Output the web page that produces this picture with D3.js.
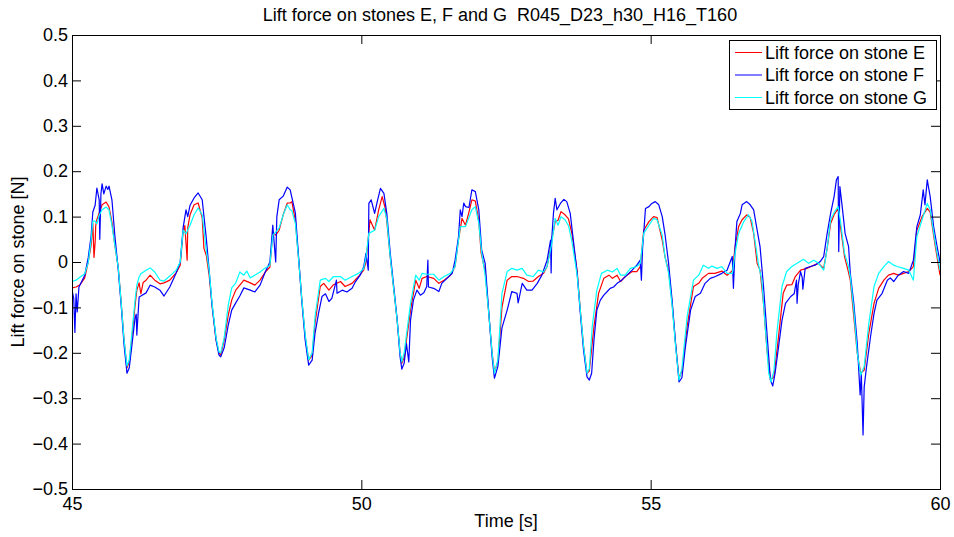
<!DOCTYPE html>
<html>
<head>
<meta charset="utf-8">
<script src="https://cdn.jsdelivr.net/npm/d3@7"></script>
<style>
  body { margin: 0; background: #fff; }
  text { font-family: "Liberation Sans", Arial, Helvetica, sans-serif; fill: #000; }
</style>
</head>
<body>
<svg id="chart" width="954" height="537"></svg>
<script>
// Lift force on stones E, F and G
// each entry is [time (s), force (N)]

const liftE = [
  [45.00,-0.057],[45.07,-0.055],[45.14,-0.050],[45.22,-0.035],[45.28,0.000],[45.33,0.037],
  [45.36,0.085],[45.38,0.010],[45.40,0.044],[45.41,0.080],[45.43,0.093],[45.47,0.108],
  [45.52,0.126],[45.59,0.132],[45.64,0.121],[45.69,0.088],[45.74,0.037],[45.80,-0.013],
  [45.85,-0.090],[45.90,-0.172],[45.95,-0.233],[45.99,-0.220],[46.04,-0.161],[46.09,-0.095],
  [46.12,-0.062],[46.16,-0.046],[46.19,-0.070],[46.23,-0.045],[46.28,-0.040],[46.35,-0.029],
  [46.43,-0.040],[46.52,-0.048],[46.59,-0.046],[46.69,-0.040],[46.80,-0.024],[46.87,-0.007],
  [46.92,0.066],[46.95,0.080],[46.99,0.004],[47.00,0.075],[47.04,0.104],[47.11,0.126],
  [47.18,0.130],[47.25,0.097],[47.28,0.030],[47.32,0.015],[47.37,-0.029],[47.42,-0.095],
  [47.49,-0.172],[47.54,-0.200],[47.57,-0.205],[47.63,-0.172],[47.70,-0.117],[47.76,-0.084],
  [47.83,-0.062],[47.90,-0.051],[47.97,-0.040],[48.08,-0.046],[48.16,-0.051],[48.25,-0.040],
  [48.34,-0.022],[48.42,-0.011],[48.47,0.066],[48.52,0.059],[48.58,0.070],[48.65,0.104],
  [48.72,0.130],[48.77,0.130],[48.80,0.133],[48.86,0.090],[48.92,0.000],[48.97,-0.080],
  [49.03,-0.165],[49.09,-0.216],[49.15,-0.205],[49.20,-0.135],[49.29,-0.054],[49.35,-0.047],
  [49.44,-0.062],[49.52,-0.050],[49.64,-0.043],[49.72,-0.054],[49.84,-0.047],[49.95,-0.032],
  [50.04,-0.018],[50.08,0.000],[50.15,0.093],[50.23,0.070],[50.30,0.115],[50.36,0.144],
  [50.41,0.120],[50.44,0.090],[50.50,0.010],[50.56,-0.060],[50.62,-0.130],[50.67,-0.200],
  [50.70,-0.223],[50.74,-0.210],[50.85,-0.106],[50.94,-0.040],[51.00,-0.058],[51.05,-0.036],
  [51.13,-0.032],[51.25,-0.036],[51.34,-0.047],[51.43,-0.040],[51.54,-0.029],[51.62,-0.010],
  [51.68,0.050],[51.74,0.096],[51.80,0.081],[51.86,0.110],[51.91,0.137],[51.97,0.134],
  [52.03,0.090],[52.07,0.020],[52.14,-0.020],[52.20,-0.110],[52.26,-0.200],[52.30,-0.242],
  [52.36,-0.220],[52.43,-0.100],[52.52,-0.040],[52.60,-0.032],[52.69,-0.032],[52.80,-0.036],
  [52.89,-0.043],[52.97,-0.042],[53.06,-0.032],[53.15,-0.025],[53.21,-0.010],[53.29,0.048],
  [53.35,0.089],[53.40,0.092],[53.45,0.111],[53.52,0.104],[53.58,0.095],[53.64,0.062],
  [53.73,-0.020],[53.78,-0.100],[53.84,-0.185],[53.90,-0.245],[53.94,-0.240],[54.02,-0.142],
  [54.10,-0.069],[54.19,-0.036],[54.28,-0.029],[54.34,-0.036],[54.42,-0.029],[54.48,-0.043],
  [54.56,-0.032],[54.68,-0.021],[54.76,-0.021],[54.82,-0.010],[54.88,0.070],[54.97,0.089],
  [55.05,0.100],[55.11,0.098],[55.20,0.048],[55.25,0.010],[55.31,-0.020],[55.37,-0.090],
  [55.43,-0.180],[55.49,-0.256],[55.54,-0.240],[55.63,-0.142],[55.74,-0.054],[55.83,-0.047],
  [55.89,-0.036],[56.00,-0.025],[56.11,-0.025],[56.23,-0.020],[56.32,-0.029],[56.41,-0.020],
  [56.46,0.034],[56.52,0.078],[56.58,0.093],[56.66,0.104],[56.72,0.098],[56.78,0.063],
  [56.84,-0.003],[56.89,-0.018],[56.95,-0.091],[57.01,-0.194],[57.07,-0.260],[57.13,-0.253],
  [57.21,-0.164],[57.29,-0.069],[57.35,-0.051],[57.44,-0.050],[57.50,-0.032],[57.59,-0.018],
  [57.70,-0.014],[57.82,-0.007],[57.90,-0.003],[57.99,-0.014],[58.05,0.030],[58.11,0.085],
  [58.17,0.104],[58.24,0.118],[58.28,0.078],[58.35,0.012],[58.41,-0.018],[58.45,-0.040],
  [58.51,-0.120],[58.57,-0.201],[58.63,-0.245],[58.69,-0.238],[58.77,-0.157],[58.86,-0.091],
  [58.94,-0.058],[59.03,-0.040],[59.11,-0.029],[59.20,-0.025],[59.28,-0.029],[59.37,-0.025],
  [59.46,-0.021],[59.54,-0.010],[59.60,0.070],[59.69,0.100],[59.78,0.118],[59.83,0.110],
  [59.92,0.034],[60.00,-0.029]
];

const liftF = [
  [45.00,-0.062],[45.03,-0.080],[45.05,-0.155],[45.07,-0.070],[45.09,-0.110],[45.12,-0.055],
  [45.14,-0.050],[45.22,-0.029],[45.28,0.009],[45.33,0.057],[45.36,0.110],[45.40,0.125],
  [45.43,0.163],[45.47,0.137],[45.48,0.050],[45.50,0.150],[45.52,0.172],[45.55,0.150],
  [45.59,0.167],[45.62,0.160],[45.64,0.167],[45.69,0.137],[45.74,0.059],[45.80,-0.018],
  [45.85,-0.095],[45.90,-0.183],[45.95,-0.245],[45.99,-0.233],[46.04,-0.178],[46.09,-0.123],
  [46.11,-0.115],[46.12,-0.161],[46.16,-0.077],[46.19,-0.075],[46.28,-0.068],[46.35,-0.051],
  [46.43,-0.055],[46.52,-0.062],[46.59,-0.075],[46.69,-0.055],[46.80,-0.024],[46.87,0.000],
  [46.92,0.075],[46.97,0.115],[47.00,0.100],[47.04,0.125],[47.11,0.141],[47.18,0.152],
  [47.25,0.137],[47.32,0.053],[47.37,-0.018],[47.42,-0.095],[47.49,-0.172],[47.54,-0.205],
  [47.57,-0.209],[47.63,-0.189],[47.70,-0.139],[47.76,-0.106],[47.83,-0.090],[47.90,-0.075],
  [47.97,-0.057],[48.08,-0.062],[48.16,-0.066],[48.25,-0.051],[48.34,-0.022],[48.42,0.000],
  [48.47,0.081],[48.52,0.000],[48.54,0.100],[48.58,0.137],[48.65,0.145],[48.72,0.165],
  [48.77,0.159],[48.86,0.108],[48.92,0.004],[48.97,-0.084],[49.03,-0.172],[49.09,-0.227],
  [49.15,-0.216],[49.20,-0.157],[49.26,-0.113],[49.32,-0.076],[49.38,-0.070],[49.44,-0.087],
  [49.49,-0.080],[49.57,-0.040],[49.58,-0.069],[49.67,-0.062],[49.75,-0.066],[49.84,-0.058],
  [49.90,-0.043],[49.98,-0.029],[50.04,-0.011],[50.08,0.019],[50.12,-0.018],[50.13,0.129],
  [50.17,0.137],[50.23,0.107],[50.27,0.130],[50.33,0.162],[50.39,0.151],[50.44,0.107],
  [50.50,0.019],[50.56,-0.054],[50.62,-0.128],[50.67,-0.209],[50.70,-0.236],[50.74,-0.223],
  [50.78,-0.180],[50.82,-0.220],[50.85,-0.128],[50.90,-0.084],[50.96,-0.062],[51.02,-0.073],
  [51.08,-0.068],[51.13,-0.054],[51.15,0.004],[51.16,-0.055],[51.25,-0.058],[51.34,-0.065],
  [51.39,-0.047],[51.48,-0.036],[51.57,-0.025],[51.62,0.004],[51.68,0.056],[51.71,0.115],
  [51.74,0.100],[51.77,0.130],[51.80,0.122],[51.86,0.120],[51.91,0.159],[51.97,0.155],
  [52.03,0.115],[52.08,0.026],[52.14,-0.003],[52.20,-0.106],[52.26,-0.209],[52.30,-0.256],
  [52.36,-0.230],[52.43,-0.145],[52.52,-0.106],[52.60,-0.065],[52.69,-0.069],[52.71,-0.090],
  [52.78,-0.047],[52.86,-0.062],[52.95,-0.062],[53.04,-0.047],[53.12,-0.029],[53.21,0.004],
  [53.27,0.048],[53.28,-0.024],[53.29,0.050],[53.32,0.107],[53.35,0.140],[53.38,0.115],
  [53.44,0.129],[53.50,0.138],[53.55,0.133],[53.61,0.107],[53.67,0.041],[53.73,-0.025],
  [53.78,-0.106],[53.84,-0.194],[53.90,-0.253],[53.94,-0.260],[53.98,-0.245],[54.02,-0.172],
  [54.07,-0.106],[54.13,-0.084],[54.19,-0.073],[54.25,-0.065],[54.30,-0.058],[54.36,-0.055],
  [54.42,-0.047],[54.50,-0.040],[54.59,-0.029],[54.68,-0.018],[54.76,-0.007],[54.82,0.004],
  [54.84,-0.040],[54.86,0.030],[54.88,0.063],[54.91,0.118],[54.97,0.122],[55.02,0.129],
  [55.08,0.133],[55.14,0.126],[55.20,0.100],[55.25,0.059],[55.31,-0.003],[55.37,-0.084],
  [55.43,-0.179],[55.49,-0.264],[55.54,-0.255],[55.60,-0.187],[55.69,-0.106],[55.77,-0.076],
  [55.86,-0.069],[55.94,-0.047],[56.03,-0.036],[56.12,-0.032],[56.23,-0.025],[56.32,-0.018],
  [56.41,0.012],[56.43,-0.058],[56.46,0.034],[56.49,0.089],[56.55,0.107],[56.58,0.126],
  [56.66,0.133],[56.72,0.126],[56.78,0.115],[56.84,0.070],[56.89,0.034],[56.95,-0.054],
  [57.01,-0.157],[57.07,-0.260],[57.11,-0.273],[57.15,-0.245],[57.21,-0.187],[57.27,-0.128],
  [57.33,-0.091],[57.42,-0.076],[57.48,-0.070],[57.52,-0.040],[57.53,-0.091],[57.55,-0.050],
  [57.59,-0.021],[57.62,-0.035],[57.63,-0.060],[57.67,-0.014],[57.76,-0.010],[57.84,-0.007],
  [57.93,0.001],[57.99,0.012],[58.05,0.063],[58.11,0.107],[58.17,0.144],[58.21,0.181],
  [58.24,0.188],[58.25,0.023],[58.27,0.166],[58.31,0.122],[58.36,0.063],[58.42,0.034],
  [58.45,-0.025],[58.51,-0.091],[58.57,-0.179],[58.62,-0.293],[58.64,-0.245],[58.67,-0.381],
  [58.69,-0.275],[58.73,-0.231],[58.80,-0.164],[58.86,-0.113],[58.91,-0.084],[59.00,-0.069],
  [59.09,-0.040],[59.14,-0.035],[59.20,-0.043],[59.28,-0.029],[59.37,-0.021],[59.46,-0.025],
  [59.54,0.004],[59.60,0.078],[59.66,0.104],[59.71,0.159],[59.74,0.126],[59.78,0.181],
  [59.83,0.144],[59.89,0.078],[59.95,0.034],[60.00,0.000]
];

const liftG = [
  [45.00,-0.043],[45.07,-0.040],[45.14,-0.033],[45.22,-0.026],[45.28,-0.002],[45.33,0.048],
  [45.36,0.090],[45.40,0.090],[45.43,0.084],[45.47,0.103],[45.52,0.115],[45.59,0.121],
  [45.64,0.115],[45.69,0.081],[45.74,0.037],[45.80,-0.013],[45.85,-0.090],[45.90,-0.172],
  [45.95,-0.229],[45.99,-0.216],[46.04,-0.150],[46.09,-0.084],[46.12,-0.051],[46.16,-0.033],
  [46.19,-0.026],[46.28,-0.018],[46.35,-0.013],[46.43,-0.022],[46.52,-0.040],[46.59,-0.042],
  [46.69,-0.031],[46.80,-0.018],[46.87,0.000],[46.92,0.070],[46.97,0.062],[47.04,0.081],
  [47.11,0.104],[47.18,0.119],[47.25,0.104],[47.32,0.026],[47.37,-0.018],[47.42,-0.090],
  [47.49,-0.167],[47.54,-0.198],[47.57,-0.200],[47.63,-0.167],[47.70,-0.095],[47.76,-0.057],
  [47.83,-0.046],[47.90,-0.022],[47.97,-0.029],[48.02,-0.020],[48.08,-0.035],[48.16,-0.029],
  [48.25,-0.022],[48.34,-0.013],[48.42,-0.007],[48.47,0.059],[48.52,0.066],[48.58,0.075],
  [48.65,0.104],[48.72,0.126],[48.77,0.115],[48.80,0.113],[48.86,0.085],[48.92,0.000],
  [48.97,-0.080],[49.03,-0.160],[49.09,-0.215],[49.15,-0.200],[49.20,-0.120],[49.29,-0.040],
  [49.38,-0.036],[49.44,-0.043],[49.52,-0.032],[49.64,-0.032],[49.72,-0.040],[49.84,-0.032],
  [49.95,-0.025],[50.04,-0.015],[50.08,0.010],[50.13,0.063],[50.23,0.070],[50.30,0.100],
  [50.39,0.118],[50.44,0.095],[50.50,0.010],[50.56,-0.060],[50.62,-0.130],[50.67,-0.200],
  [50.70,-0.220],[50.74,-0.200],[50.85,-0.091],[50.94,-0.029],[51.00,-0.040],[51.05,-0.025],
  [51.13,-0.027],[51.25,-0.027],[51.34,-0.040],[51.43,-0.032],[51.54,-0.025],[51.62,-0.010],
  [51.71,0.078],[51.80,0.078],[51.91,0.115],[51.97,0.122],[52.03,0.085],[52.08,0.020],
  [52.14,-0.030],[52.20,-0.110],[52.26,-0.200],[52.30,-0.245],[52.36,-0.215],[52.43,-0.069],
  [52.52,-0.021],[52.60,-0.014],[52.69,-0.018],[52.78,-0.014],[52.86,-0.029],[52.97,-0.032],
  [53.06,-0.018],[53.15,-0.022],[53.21,-0.010],[53.29,0.040],[53.35,0.096],[53.40,0.081],
  [53.45,0.100],[53.52,0.093],[53.58,0.080],[53.64,0.045],[53.73,-0.030],[53.78,-0.100],
  [53.84,-0.185],[53.90,-0.245],[53.94,-0.235],[53.99,-0.142],[54.07,-0.062],[54.15,-0.025],
  [54.25,-0.018],[54.34,-0.022],[54.42,-0.014],[54.48,-0.029],[54.56,-0.029],[54.65,-0.014],
  [54.76,-0.010],[54.82,-0.003],[54.88,0.063],[54.97,0.081],[55.05,0.096],[55.11,0.093],
  [55.20,0.059],[55.25,0.010],[55.31,-0.025],[55.37,-0.095],[55.43,-0.185],[55.49,-0.260],
  [55.54,-0.235],[55.63,-0.120],[55.74,-0.040],[55.83,-0.029],[55.91,-0.007],[56.00,-0.014],
  [56.06,-0.009],[56.15,-0.014],[56.23,-0.010],[56.32,-0.025],[56.41,-0.025],[56.46,0.020],
  [56.52,0.063],[56.61,0.089],[56.69,0.104],[56.75,0.090],[56.81,0.041],[56.86,-0.003],
  [56.92,-0.040],[56.98,-0.142],[57.04,-0.245],[57.08,-0.264],[57.13,-0.240],[57.18,-0.157],
  [57.27,-0.054],[57.35,-0.021],[57.44,-0.010],[57.53,-0.003],[57.64,0.006],[57.73,-0.003],
  [57.82,0.004],[57.90,-0.003],[57.99,-0.018],[58.05,0.030],[58.11,0.093],[58.18,0.111],
  [58.24,0.122],[58.28,0.090],[58.35,0.019],[58.42,-0.010],[58.45,-0.032],[58.51,-0.106],
  [58.57,-0.200],[58.63,-0.249],[58.69,-0.230],[58.77,-0.135],[58.86,-0.054],[58.94,-0.025],
  [59.03,-0.010],[59.11,0.001],[59.20,-0.007],[59.26,-0.010],[59.37,-0.014],[59.46,-0.018],
  [59.54,-0.040],[59.60,0.056],[59.69,0.093],[59.78,0.129],[59.83,0.115],[59.92,0.041],
  [60.00,-0.018]
];

const seriesNames = ["Lift force on stone E", "Lift force on stone F", "Lift force on stone G"];
const seriesColors = ["#ff0000", "#0000ff", "#00ffff"];
const xTicks = [45, 50, 55, 60];
const yTicks = [-0.5, -0.4, -0.3, -0.2, -0.1, 0, 0.1, 0.2, 0.3, 0.4, 0.5];

// Plot box in pixels (window.top is reserved, hence the prefixes)
const plotLeft = 72, plotRight = 940, plotTop = 35, plotBottom = 489;
const fontSize = "18px";
const svg = d3.select("#chart");

const x = d3.scaleLinear().domain([45, 60]).range([plotLeft, plotRight]);
const y = d3.scaleLinear().domain([-0.5, 0.5]).range([plotBottom, plotTop]);

// clip so lines stay in the box
svg.append("defs").append("clipPath").attr("id", "plotClip")
    .append("rect")
    .attr("x", plotLeft).attr("y", plotTop)
    .attr("width", plotRight - plotLeft).attr("height", plotBottom - plotTop);

// Lines: E, F, G (G ends up on top like in the original)
const line = d3.line().x(d => x(d[0])).y(d => y(d[1]));
const plotGroup = svg.append("g").attr("clip-path", "url(#plotClip)");
[liftE, liftF, liftG].forEach((data, i) => {
    plotGroup.append("path")
        .datum(data)
        .attr("d", line)
        .attr("fill", "none")
        .attr("stroke", seriesColors[i])
        .attr("stroke-width", 1.2)
        .attr("stroke-linejoin", "round");
});

// Tick labels use a real minus sign
const fmtLabel = d => d === 0 ? "0" : (d < 0 ? "\u2212" : "") + d3.format(".1f")(Math.abs(d));

// Inward ticks on all four sides
const tickLen = 9;
const yAxisL = d3.axisLeft(y).tickValues(yTicks).tickSizeInner(-tickLen).tickSizeOuter(0)
    .tickPadding(4).tickFormat(fmtLabel);
const yAxisR = d3.axisRight(y).tickValues(yTicks).tickSizeInner(-tickLen).tickSizeOuter(0)
    .tickFormat("");
const xAxisB = d3.axisBottom(x).tickValues(xTicks).tickSizeInner(-tickLen).tickSizeOuter(0)
    .tickPadding(8).tickFormat(d3.format("d"));
const xAxisT = d3.axisTop(x).tickValues(xTicks).tickSizeInner(-tickLen).tickSizeOuter(0)
    .tickFormat("");

function styleAxis(g) {
    g.select(".domain").remove();
    g.selectAll("line").attr("stroke", "#000").attr("stroke-width", 1);
    g.selectAll("text")
        .style("font-family", '"Liberation Sans", Arial, sans-serif')
        .style("font-size", fontSize)
        .attr("fill", "#000");
}

svg.append("g").attr("transform", `translate(${plotLeft},0)`).call(yAxisL).call(styleAxis);
svg.append("g").attr("transform", `translate(${plotRight},0)`).call(yAxisR).call(styleAxis);
svg.append("g").attr("transform", `translate(0,${plotBottom})`).call(xAxisB).call(styleAxis);
svg.append("g").attr("transform", `translate(0,${plotTop})`).call(xAxisT).call(styleAxis);

// Box around the plot
svg.append("rect")
    .attr("x", plotLeft + 0.5).attr("y", plotTop + 0.5)
    .attr("width", plotRight - plotLeft).attr("height", plotBottom - plotTop)
    .attr("fill", "none").attr("stroke", "#000").attr("stroke-width", 1);

// Title and axis labels (the title keeps its double space)
svg.append("text")
    .attr("x", 500).attr("y", 21)
    .attr("text-anchor", "middle")
    .style("font-size", fontSize)
    .style("white-space", "pre")
    .text("Lift force on stones E, F and G  R045_D23_h30_H16_T160");

svg.append("text")
    .attr("x", (plotLeft + plotRight) / 2).attr("y", 527)
    .attr("text-anchor", "middle")
    .style("font-size", fontSize)
    .text("Time [s]");

svg.append("text")
    .attr("transform", `translate(24,${(plotTop + plotBottom) / 2}) rotate(-90)`)
    .attr("text-anchor", "middle")
    .style("font-size", fontSize)
    .text("Lift force on stone [N]");

// Legend
const legendGroup = svg.append("g").attr("class", "legend-group");
legendGroup.append("rect")
    .attr("x", 729.5).attr("y", 40.5)
    .attr("width", 207).attr("height", 69)
    .attr("fill", "#fff").attr("stroke", "#000").attr("stroke-width", 1);

const legend = legendGroup.selectAll(".legend")
    .data(seriesNames)
    .enter()
    .append("g")
    .attr("class", "legend")
    .attr("transform", (d, i) => `translate(735,${52.5 + i * 22.5})`);

legend.append("line")
    .attr("x1", 0).attr("x2", 27)
    .attr("stroke", (d, i) => seriesColors[i])
    .attr("stroke-width", 1);

legend.append("text")
    .attr("x", 30).attr("y", 0)
    .attr("dy", "0.35em")
    .style("font-size", fontSize)
    .text(d => d);
</script>
</body>
</html>
